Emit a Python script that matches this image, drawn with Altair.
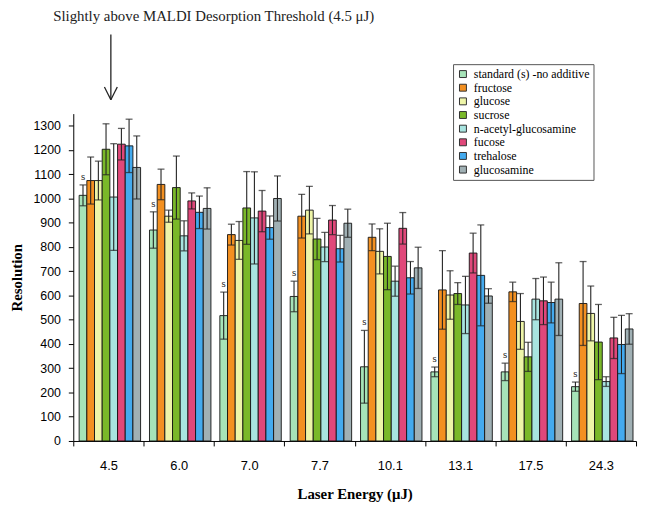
import altair as alt
import pandas as pd

energies = ["4.5", "6.0", "7.0", "7.7", "10.1", "13.1", "17.5", "24.3"]
series = ["standard (s) -no additive", "fructose", "glucose", "sucrose",
          "n-acetyl-glucosamine", "fucose", "trehalose", "glucosamine"]
colors = ["#a6e3b8", "#f39021", "#eef5a8", "#7ab829",
          "#a8e4e0", "#e0487a", "#44aaee", "#a0b0b4"]
y_ticks = [0, 100, 200, 300, 400, 500, 600, 700, 800, 900, 1000, 1100, 1200, 1300]

standard = [1013, 870, 517, 596, 306, 285, 285, 224]
standard_err = [43, 75, 97, 63, 150, 20, 36, 19]
fructose = [1074, 1058, 851, 927, 840, 623, 615, 567]
fructose_err = [97, 63, 43, 90, 55, 162, 40, 173]
glucose = [1074, 927, 827, 952, 782, 602, 493, 526]
glucose_err = [80, 25, 78, 98, 93, 100, 115, 113]
sucrose = [1203, 1045, 961, 833, 761, 608, 347, 408]
sucrose_err = [105, 130, 150, 85, 137, 45, 60, 155]
nacetyl = [1006, 846, 920, 800, 659, 561, 585, 245]
nacetyl_err = [220, 62, 190, 60, 62, 118, 85, 20]
fucose = [1224, 990, 948, 911, 877, 775, 578, 425]
fucose_err = [65, 33, 85, 60, 65, 82, 98, 85]
trehalose = [1217, 943, 880, 793, 673, 683, 571, 398]
trehalose_err = [110, 67, 48, 55, 67, 208, 84, 120]
glucosamine = [1128, 959, 1000, 898, 714, 598, 585, 462]
glucosamine_err = [130, 85, 93, 58, 85, 30, 150, 63]

values = [standard, fructose, glucose, sucrose, nacetyl, fucose, trehalose, glucosamine]
errors = [standard_err, fructose_err, glucose_err, sucrose_err, nacetyl_err,
          fucose_err, trehalose_err, glucosamine_err]

annotation = "Slightly above MALDI Desorption Threshold (4.5 \u03bcJ)"

rows = []
for s, vals, errs in zip(series, values, errors):
    for e, v, er in zip(energies, vals, errs):
        rows.append({"energy": e, "series": s, "value": v,
                     "lo": v - er, "hi": v + er})
df = pd.DataFrame(rows)

SERIF = "Liberation Serif"
SANS = "Liberation Sans"

x_axis = alt.Axis(title="Laser Energy (\u03bcJ)", labelAngle=0, tickBand="extent",
                  labelFont=SANS, labelFontSize=13, labelColor="black",
                  labelPadding=14, tickSize=5, tickColor="black",
                  domainColor="black", titleFont=SERIF, titleFontSize=15,
                  titleFontWeight="bold", titleColor="black", titlePadding=14)
y_axis = alt.Axis(title="Resolution", values=y_ticks, grid=False,
                  format="d", labelOverlap=False,
                  labelFont=SANS, labelFontSize=12.5, labelColor="black",
                  tickSize=5, tickColor="black", domainColor="black",
                  labelPadding=8, titleFont=SERIF, titleFontSize=15,
                  titleFontWeight="bold", titleColor="black", titlePadding=9)
x_scale = alt.Scale(domain=energies, paddingInner=0, paddingOuter=0)
xo_scale = alt.Scale(domain=series, paddingInner=0, paddingOuter=0.58, align=0.66)
y_scale = alt.Scale(domain=[0, 1350], nice=False)

xe = alt.X("energy:N", sort=energies, scale=x_scale, axis=x_axis)
xoe = alt.XOffset("series:N", sort=series, scale=xo_scale)

base = alt.Chart(df)

bars = base.mark_bar(stroke="#111", strokeWidth=0.9).encode(
    x=xe,
    xOffset=xoe,
    y=alt.Y("value:Q", scale=y_scale, axis=y_axis),
    color=alt.Color("series:N", sort=series,
                    scale=alt.Scale(domain=series, range=colors),
                    legend=alt.Legend(title=None, orient="none", legendX=384, legendY=-50,
                                      strokeColor="#555", fillColor="white", padding=4,
                                      symbolType="square", symbolSize=49,
                                      symbolStrokeColor="#333", symbolStrokeWidth=1,
                                      symbolOpacity=1,
                                      labelFont=SERIF, labelFontSize=12, labelColor="black",
                                      labelOffset=5, rowPadding=1.8)),
)

rules = base.mark_rule(color="#222", strokeWidth=1.1).encode(
    x=xe, xOffset=xoe, y=alt.Y("lo:Q", scale=y_scale, axis=y_axis), y2="hi:Q")
caps_hi = base.mark_tick(color="#222", thickness=1.3, size=7, orient="horizontal").encode(
    x=xe, xOffset=xoe, y=alt.Y("hi:Q", scale=y_scale, axis=y_axis))
caps_lo = base.mark_tick(color="#222", thickness=1.3, size=7, orient="horizontal").encode(
    x=xe, xOffset=xoe, y=alt.Y("lo:Q", scale=y_scale, axis=y_axis))

s_labels = base.transform_filter(alt.datum.series == series[0]).mark_text(
    text="s", font=SERIF, fontSize=11, baseline="bottom", dy=-3, color="#222").encode(
    x=xe, xOffset=xoe, y=alt.Y("hi:Q", scale=y_scale, axis=y_axis))

ann_df = pd.DataFrame({"label": [annotation]})
ann = alt.Chart(ann_df).mark_text(font=SERIF, fontSize=15, color="#222",
                                  align="center", baseline="middle").encode(
    text="label:N", x=alt.value(142), y=alt.value(-99))
arrow_line = alt.Chart(ann_df).mark_rule(color="#222", strokeWidth=1.3).encode(
    x=alt.value(38), y=alt.value(-80), y2=alt.value(-14))
arrow_l = alt.Chart(ann_df).mark_rule(color="#222", strokeWidth=1.3).encode(
    x=alt.value(31.5), x2=alt.value(38), y=alt.value(-27), y2=alt.value(-14))
arrow_r = alt.Chart(ann_df).mark_rule(color="#222", strokeWidth=1.3).encode(
    x=alt.value(44.5), x2=alt.value(38), y=alt.value(-27), y2=alt.value(-14))

chart = alt.layer(bars, rules, caps_hi, caps_lo, s_labels, ann, arrow_line, arrow_l, arrow_r).properties(
    width=569, height=331,
    autosize=alt.AutoSizeParams(type="none"),
    padding={"left": 66, "top": 104, "right": 3, "bottom": 68},
    background="white",
).configure_view(stroke=None)

chart.save("out.html", embed_options={"renderer": "svg", "actions": False})
